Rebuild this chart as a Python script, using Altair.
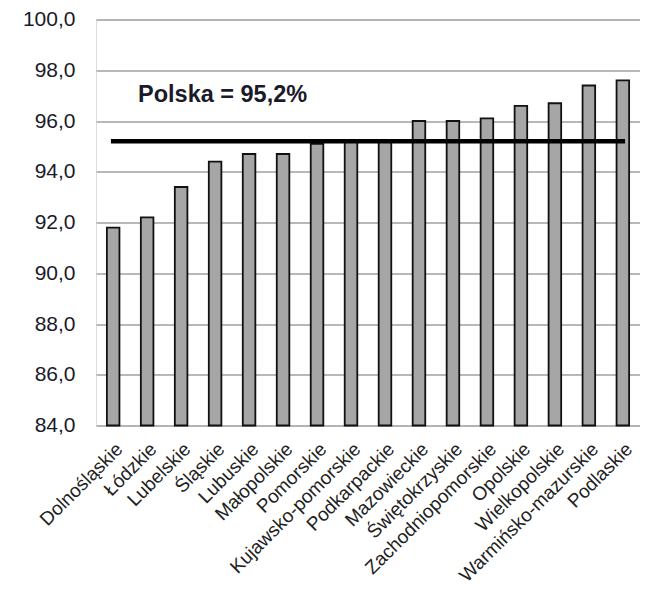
import altair as alt
import pandas as pd

regions = ["Dolnośląskie", "Łódzkie", "Lubelskie", "Śląskie", "Lubuskie", "Małopolskie",
           "Pomorskie", "Kujawsko-pomorskie", "Podkarpackie", "Mazowieckie", "Świętokrzyskie",
           "Zachodniopomorskie", "Opolskie", "Wielkopolskie", "Warmińsko-mazurskie", "Podlaskie"]
values = [91.8, 92.2, 93.4, 94.4, 94.7, 94.7, 95.1, 95.2, 95.2, 96.0, 96.0, 96.1, 96.6, 96.7, 97.4, 97.6]
polska = 95.2
y_ticks = [84, 86, 88, 90, 92, 94, 96, 98, 100]

df = pd.DataFrame({"region": regions, "value": values})
line_df = pd.DataFrame({"region": [regions[0], regions[-1]], "value": [polska, polska]})

FONT = "Liberation Sans"

xscale = alt.Scale(domain=regions, paddingInner=0.63, paddingOuter=0.32)
yscale = alt.Scale(domain=[84, 100], zero=False, nice=False)

bars = alt.Chart(df).mark_bar(fill="#a6a6a6", stroke="#111111", strokeWidth=1.8).encode(
    x=alt.X("region:N", scale=xscale, sort=regions,
            axis=alt.Axis(title=None, labelAngle=315, labelAlign="right", labelBaseline="top",
                          labelFontSize=19, labelFont=FONT, labelColor="#222222",
                          labelPadding=14, ticks=False, domain=False, grid=False,
                          labelOverlap=False, labelLimit=300)),
    y=alt.Y("value:Q", scale=yscale,
            axis=alt.Axis(title=None, values=y_ticks,
                          labelExpr="replace(format(datum.value, '.1f'), '.', ',')",
                          labelFontSize=21, labelFont=FONT, labelColor="#1a1a2a",
                          labelPadding=21, ticks=False, domain=False,
                          grid=True, gridColor="#a0a0a0", gridWidth=1.5)),
    y2=alt.datum(84),
)

line = alt.Chart(line_df).mark_line(color="#000000", strokeWidth=4.5, strokeCap="square").encode(
    x=alt.X("region:N", scale=xscale, sort=regions),
    y=alt.Y("value:Q", scale=yscale),
)

label = alt.Chart(pd.DataFrame({"t": [f"Polska = {str(polska).replace('.', ',')}%"]})).mark_text(
    align="left", baseline="alphabetic", font=FONT, fontSize=23.5, fontWeight="bold", color="#1a1a2a"
).encode(
    x=alt.value(42),
    y=alt.value(82),
    text="t:N",
)

chart = alt.layer(bars, line, label).properties(
    width=544, height=406,
    autosize=alt.AutoSizeParams(type="none"),
    padding={"left": 88, "top": 11.5, "right": 0, "bottom": 164},
).configure_view(stroke="#a0a0a0", strokeWidth=1.5).configure(background="white")

chart.save("out.html", embed_options={"renderer": "svg", "actions": False})
